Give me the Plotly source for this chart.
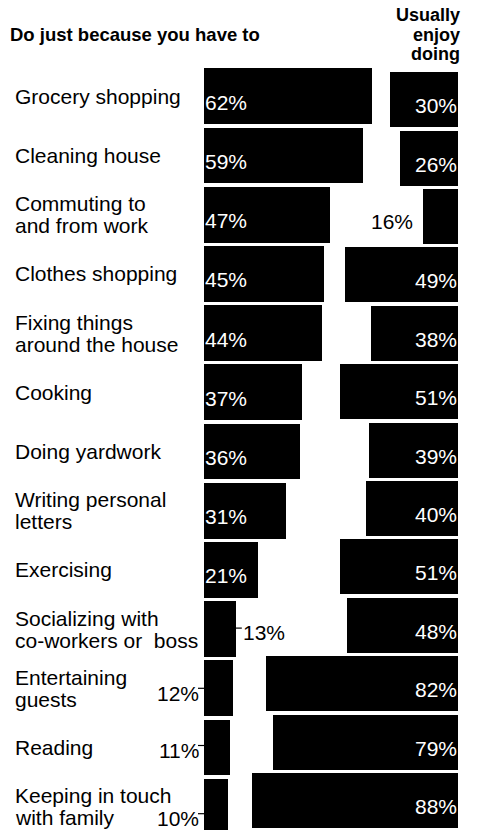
import plotly.graph_objects as go

# Activities and survey percentages
categories = [
    "Grocery shopping",
    "Cleaning house",
    "Commuting to<br>and from work",
    "Clothes shopping",
    "Fixing things<br>around the house",
    "Cooking",
    "Doing yardwork",
    "Writing personal<br>letters",
    "Exercising",
    "Socializing with<br>co-workers or\u00a0 boss",
    "Entertaining<br>guests",
    "Reading",
    "Keeping in touch<br>with family",
]
have_to = [62, 59, 47, 45, 44, 37, 36, 31, 21, 13, 12, 11, 10]
enjoy = [30, 26, 16, 49, 38, 51, 39, 40, 51, 48, 82, 79, 88]

left_title = "Do just because you have to"
right_title = ["Usually", "enjoy", "doing"]

# ---- page geometry (pixels) ----
W, H = 477, 830
FONT = "Liberation Sans, Arial, Helvetica, sans-serif"
FS_CAT = 21
FS_VAL = 21

# left panel: zero at 199.8 px, 2.77 px per percent, clipped at 204 px
L_ZERO, L_K, L_CLIP, L_END = 199.8, 2.77, 204.0, 420.0
# right panel: zero at 461.4 px, 2.38 px per percent, clipped at 458 px
R_ZERO, R_K, R_CLIP, R_START = 461.4, 2.38, 458.0, 230.0
# row centres: first row centre and pitch for each panel
L_Y0, L_PITCH = 96.3, 59.2
R_Y0, R_PITCH = 99.7, 58.4

x_lo = (L_CLIP - L_ZERO) / L_K
x_hi = (L_END - L_ZERO) / L_K
x2_lo = (R_ZERO - R_CLIP) / R_K
x2_hi = (R_ZERO - R_START) / R_K

rows = list(range(len(categories)))

fig = go.Figure()
fig.add_trace(go.Bar(
    x=have_to, y=rows, orientation="h", xaxis="x", yaxis="y",
    marker=dict(color="black", line=dict(width=0)), width=0.94,
    hoverinfo="skip", showlegend=False,
))
fig.add_trace(go.Bar(
    x=enjoy, y=rows, orientation="h", xaxis="x2", yaxis="y2",
    marker=dict(color="black", line=dict(width=0)), width=0.94,
    hoverinfo="skip", showlegend=False,
))

ann = []
shapes = []

# category labels, one annotation per line for tight leading
LEAD = 22
for k, cat in enumerate(categories):
    lines = cat.split("<br>")
    n = len(lines)
    for i, line in enumerate(lines):
        off = (i - (n - 1) / 2) * LEAD
        ann.append(dict(
            text=line, xref="paper", x=13 / W, xanchor="left",
            yref="y", y=k, yanchor="middle", yshift=-off,
            showarrow=False, font=dict(family=FONT, size=FS_CAT, color="black"),
        ))

# left value labels
outside_dy = {9: 3, 10: 5, 11: 3, 12: 12}
for k, v in enumerate(have_to):
    label = f"{v}%"
    if v >= 20:
        ann.append(dict(
            text=label, xref="x", x=x_lo, xanchor="left", xshift=-1,
            yref="y", y=k, yanchor="middle", yshift=-6,
            showarrow=False, font=dict(family=FONT, size=FS_VAL, color="white"),
        ))
    else:
        dy = outside_dy.get(k, 3)
        if k == 9:
            # label to the right of the bar, joined by a short tick
            ann.append(dict(
                text=label, xref="x", x=v, xanchor="left", xshift=5,
                yref="y", y=k, yanchor="middle", yshift=-dy,
                showarrow=False, font=dict(family=FONT, size=FS_VAL, color="black"),
            ))
            shapes.append(dict(
                type="line", xref="x", xsizemode="pixel", xanchor=v, x0=0, x1=6,
                yref="y", ysizemode="pixel", yanchor=k, y0=-dy + 4, y1=-dy + 4,
                line=dict(color="black", width=1.2),
            ))
        else:
            # label to the left of the bar, joined by a short tick
            ann.append(dict(
                text=label, xref="x", x=x_lo, xanchor="right", xshift=-3,
                yref="y", y=k, yanchor="middle", yshift=-dy,
                showarrow=False, font=dict(family=FONT, size=FS_VAL, color="black"),
            ))
            shapes.append(dict(
                type="line", xref="paper", xsizemode="pixel", xanchor=L_CLIP / W, x0=-6, x1=0,
                yref="y", ysizemode="pixel", yanchor=k, y0=-dy + 5, y1=-dy + 5,
                line=dict(color="black", width=1.2),
            ))

# right value labels
for k, v in enumerate(enjoy):
    label = f"{v}%"
    if v >= 20:
        ann.append(dict(
            text=label, xref="x2", x=x2_lo, xanchor="right", xshift=1,
            yref="y2", y=k, yanchor="middle", yshift=-6,
            showarrow=False, font=dict(family=FONT, size=FS_VAL, color="white"),
        ))
    else:
        ann.append(dict(
            text=label, xref="x2", x=v, xanchor="right", xshift=-8,
            yref="y2", y=k, yanchor="middle", yshift=-5,
            showarrow=False, font=dict(family=FONT, size=FS_VAL, color="black"),
        ))

# headings
ann.append(dict(
    text=f"<b>{left_title}</b>", xref="paper", x=8 / W, xanchor="left",
    yref="paper", y=1 - 34 / H, yanchor="middle", showarrow=False,
    font=dict(family=FONT, size=18.5, color="black"),
))
for i, word in enumerate(right_title):
    ann.append(dict(
        text=f"<b>{word}</b>", xref="paper", x=462 / W, xanchor="right",
        yref="paper", y=1 - (15 + 19.5 * i) / H, yanchor="middle", showarrow=False,
        font=dict(family=FONT, size=18, color="black"),
    ))

axis_off = dict(visible=False, showgrid=False, zeroline=False, fixedrange=True)
fig.update_layout(
    width=W, height=H,
    margin=dict(l=0, r=0, t=0, b=0, pad=0),
    paper_bgcolor="white", plot_bgcolor="rgba(0,0,0,0)",
    bargap=0,
    xaxis=dict(domain=[L_CLIP / W, L_END / W], range=[x_lo, x_hi], anchor="y", **axis_off),
    yaxis=dict(domain=[0, 1], range=[(H - L_Y0) / L_PITCH, -L_Y0 / L_PITCH], anchor="x", **axis_off),
    xaxis2=dict(domain=[R_START / W, R_CLIP / W], range=[x2_hi, x2_lo], anchor="y2", **axis_off),
    yaxis2=dict(domain=[0, 1], range=[(H - R_Y0) / R_PITCH, -R_Y0 / R_PITCH], anchor="x2", **axis_off),
    annotations=ann,
    shapes=shapes,
    font=dict(family=FONT),
)

fig.write_html("out.html")
